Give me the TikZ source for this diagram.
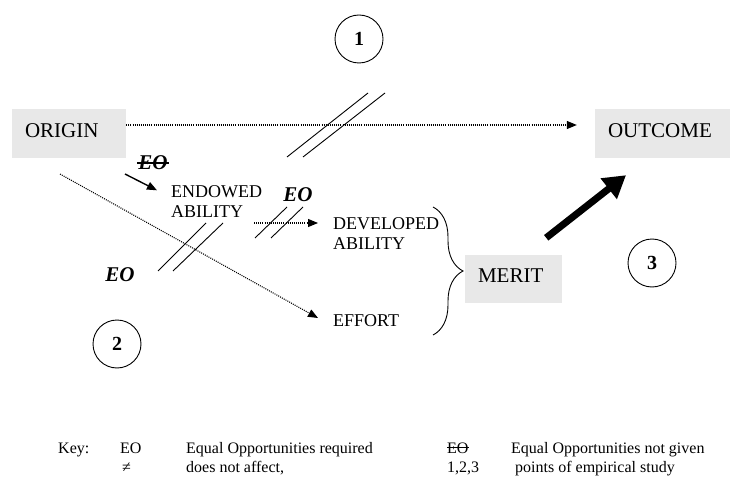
\documentclass[tikz,border=0pt]{standalone}
\usepackage{fontspec}
\setmainfont{Liberation Serif}
\usetikzlibrary{arrows.meta,decorations.pathreplacing}
\definecolor{boxgray}{RGB}{232,232,232}
\begin{document}
\begin{tikzpicture}[x=1pt,y=-1pt,
  box/.style={fill=boxgray, inner xsep=13pt, inner ysep=0pt, minimum height=49pt,
              align=left, text depth=6pt, font=\fontsize{21}{25}\selectfont},
  lbl/.style={inner sep=0pt, align=left, anchor=west, font=\fontsize{18}{20}\selectfont},
  eo/.style={inner sep=0pt, font=\fontsize{21}{25}\selectfont\bfseries\itshape},
  num/.style={circle, draw, line width=0.9pt, minimum size=48pt, inner sep=0pt,
              font=\fontsize{20}{22}\selectfont\bfseries},
  dotarrow/.style={line width=1.1pt, dash pattern=on 1pt off 1.1pt,
                   -{Triangle[length=10pt,width=8pt]}},
  solidarrow/.style={line width=1.4pt, -{Triangle[length=10pt,width=8pt]}},
  slash/.style={line width=0.9pt},
  strike/.style={line width=1.2pt},
  keytext/.style={anchor=base west, inner sep=0pt, font=\fontsize{16}{19}\selectfont}]

\useasboundingbox (0,0) rectangle (730,478);

% main boxes
\node[box, text width=88pt]  (origin)  at (69,133.5)  {ORIGIN};
\node[box, text width=109pt] (outcome) at (662.5,133.5) {OUTCOME};
\node[box, text width=71pt, minimum height=48pt] (merit) at (513.5,279) {MERIT};

% numbered study points
\node[num] (c1) at (359,39)  {1};
\node[num] (c2) at (117,344) {2};
\node[num] (c3) at (652,263) {3};

% intermediate stages
\node[lbl] (endowed)   at (171,201.5) {ENDOWED\\ABILITY};
\node[lbl] (developed) at (333,233.5) {DEVELOPED\\ABILITY};
\node[lbl] (effort)    at (333,320.5) {EFFORT};

% equal-opportunity labels
\node[eo] (eoA) at (298,195) {EO};
\node[eo] (eoB) at (120,275) {EO};
\node[eo] (eoX) at (153,163) {EO};
\draw[strike] ([xshift=-1pt]eoX.west) -- ([xshift=1pt]eoX.east);

% connectors
\draw[dotarrow, shorten >=18pt] ([yshift=8.5pt]origin.east) -- ([yshift=8.5pt]outcome.west);

\coordinate (eaTail) at (125,174);
\draw[solidarrow] (eaTail) -- ([xshift=-14pt,yshift=-5pt]endowed.north west);

\coordinate (edTail) at (254,223);
\draw[dotarrow, shorten >=15pt] (edTail) -- (edTail -| developed.west);

\coordinate (oeTail) at (60,174);
\draw[dotarrow] (oeTail) -- ([xshift=-15pt,yshift=2.5pt]effort.west);

\draw[line width=7pt, -{Triangle[length=22pt,width=25pt]}]
  ([xshift=-16pt,yshift=17pt]merit.north east) -- ([xshift=-36.5pt,yshift=-17pt]outcome.south);

% brace grouping the two parts of merit
\draw[line width=0.9pt, decorate, decoration={brace, amplitude=30pt}] (433,207) -- (433,335);

% "does not affect" marks
\draw[slash] (287,157) -- (368,93);
\draw[slash] (303,157) -- (385,93);
\draw[slash] (255,238) -- (287,207);
\draw[slash] (271,238) -- (303,207);
\draw[slash] (158,271) -- (206,223);
\draw[slash] (173,271) -- (223,223);

% key
\node[keytext] (key)        at (58,453)  {Key:};
\node[keytext] (keyEO)      at (120,453) {EO};
\node[keytext] (keyEOtext)  at (186,453) {Equal Opportunities required};
\node[keytext] (keyNe)      at (122,472) {≠};
\node[keytext] (keyNetext)  at (186,472) {does not affect,};
\node[keytext] (keyEOx)     at (447,453) {EO};
\draw[line width=0.8pt] (keyEOx.west) -- (keyEOx.east);
\node[keytext] (keyEOxtext) at (511,453) {Equal Opportunities not given};
\node[keytext] (keyNum)     at (447,472) {1,2,3};
\node[keytext] (keyNumtext) at (515,472) {points of empirical study};
\end{tikzpicture}
\end{document}
